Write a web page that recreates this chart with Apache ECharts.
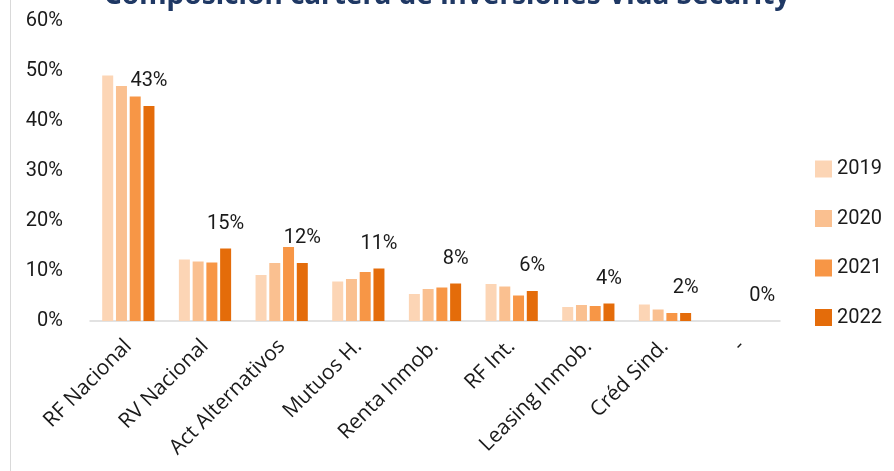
<!DOCTYPE html>
<html><head><meta charset="utf-8">
<script src="https://cdn.jsdelivr.net/npm/echarts@6/dist/echarts.min.js"></script>
<style>html,body{margin:0;padding:0;background:#fff}#c{width:894px;height:471px}</style>
</head><body><div id="c"></div>
<script>
const categories = ['RF Nacional','RV Nacional','Act Alternativos','Mutuos H.','Renta Inmob.','RF Int.','Leasing Inmob.','Créd Sind.','-'];
const years = ['2019','2020','2021','2022'];
const v2019 = [49.1, 12.3, 9.2, 7.9, 5.4, 7.4, 2.8, 3.3, 0];
const v2020 = [47.0, 11.9, 11.6, 8.4, 6.4, 6.9, 3.2, 2.3, 0];
const v2021 = [44.9, 11.7, 14.8, 9.8, 6.7, 5.1, 3.0, 1.6, 0];
const v2022 = [43.0, 14.5, 11.6, 10.5, 7.5, 6.0, 3.5, 1.6, 0];
const yTicks = [0,10,20,30,40,50,60];
const colors = ['#FCD5B5','#FAC090','#F79646','#E46C0A'];
const font = 'Roboto';
const values = [v2019, v2020, v2021, v2022];
const chart = echarts.init(document.getElementById('c'));
chart.setOption({
  animation:false,
  title:{text:'Composición cartera de inversiones Vida Security',left:'center',top:-23,
    textStyle:{fontFamily:'Noto Sans',fontSize:28,fontWeight:'bold',color:'#1F3864'}},
  graphic:[{type:'line',shape:{x1:10.5,y1:0,x2:10.5,y2:471},style:{stroke:'#d9d9d9',lineWidth:1}}],
  legend:{orient:'vertical',left:810,top:154,itemWidth:17,itemHeight:17,itemGap:29.5,
    icon:'rect',data:years,textStyle:{fontFamily:font,fontSize:20,color:'#1a1a1a'}},
  grid:{left:90,right:114,top:21,bottom:150},
  xAxis:{type:'category',data:categories,
    axisLine:{lineStyle:{color:'#d9d9d9',width:1.5}},axisTick:{show:false},
    axisLabel:{rotate:45,interval:0,margin:22,fontFamily:'Open Sans',fontSize:21,color:'#1a1a1a'}},
  yAxis:{type:'value',min:yTicks[0],max:yTicks[yTicks.length-1],interval:10,
    splitLine:{show:false},axisLine:{show:false},axisTick:{show:false},
    axisLabel:{margin:27,fontFamily:font,fontSize:20,color:'#1a1a1a',formatter:v=>v+'%'}},
  series: years.map((y,i)=>({
    name:y,type:'bar',data:values[i],barWidth:11,barGap:'25%',
    itemStyle:{color:colors[i]},
    label: i===3 ? {show:true,position:'top',distance:15,fontFamily:font,fontSize:20,color:'#1a1a1a',
      formatter:p=>Math.round(p.value)+'%'} : {show:false}
  }))
});
</script></body></html>
